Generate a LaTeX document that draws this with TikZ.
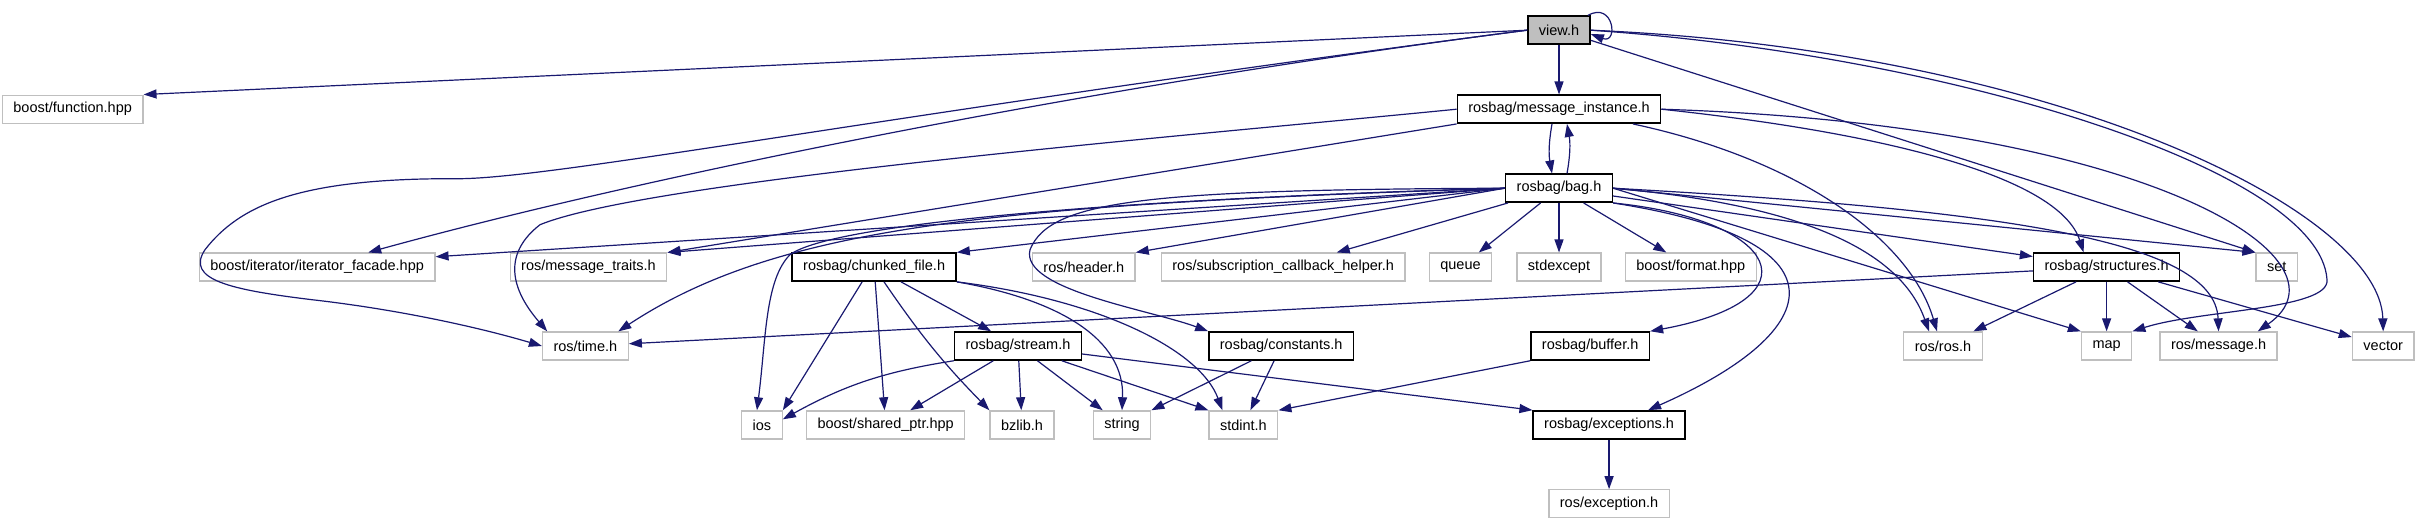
\documentclass[tikz,border=0pt]{standalone}
\usepackage{fontspec}
\setmainfont{Liberation Sans}
\usepackage{tikz}
\usetikzlibrary{arrows.meta, positioning, shapes, calc}
\definecolor{incblue}{HTML}{191970}
\definecolor{extgray}{HTML}{BFBFBF}
\tikzset{
	every node/.style={
		align=center,
		font=\fontsize{14.5pt}{17pt}\selectfont,
	},
}
\tikzstyle{every file} = [rectangle, minimum height=28pt, inner xsep=11pt, inner ysep=0pt, line width=1.3pt, fill=white]
\tikzstyle{doc file} = [every file, draw=black, line width=1.5pt]
\tikzstyle{ext file} = [every file, draw=extgray]
\tikzstyle{main file} = [every file, draw=black, line width=1.5pt, fill=extgray]
\tikzstyle{include} = [draw=incblue, line width=1.2pt, -{Triangle[length=13pt,width=9pt]}]

\begin{document}
\begin{tikzpicture}[x=1pt, y=-1pt, node distance=49.5pt]
    \path [fill=white] (0,0) rectangle (2416,504);

    \node (view) [main file] at (1559,20.5) {view.h};
    \node (msginst) [doc file, below=of view] {rosbag/message\_instance.h};
    \node (func) [ext file, left=1313pt of msginst] {boost/function.hpp};
    \node (bag) [doc file, below=of msginst] {rosbag/bag.h};

    % files included by bag.h
    \node (stdexc) [ext file, below=of bag] {stdexcept};
    \node (queue) [ext file, left=24pt of stdexc] {queue};
    \node (subcb) [ext file, left=23pt of queue] {ros/subscription\_callback\_helper.h};
    \node (header) [ext file, left=25pt of subcb] {ros/header.h};
    \node (chunked) [doc file, left=75pt of header] {rosbag/chunked\_file.h};
    \node (msgtraits) [ext file, left=124pt of chunked] {ros/message\_traits.h};
    \node (iterfac) [ext file, left=74pt of msgtraits] {boost/iterator/iterator\_facade.hpp};
    \node (format) [ext file, right=23pt of stdexc] {boost/format.hpp};
    \node (structs) [doc file, right=276pt of format] {rosbag/structures.h};
    \node (set) [ext file, right=75pt of structs] {set};

    \node (map) [ext file, below=of structs] {map};
    \node (rmsg) [ext file, right=27pt of map] {ros/message.h};
    \node (vector) [ext file, right=74pt of rmsg] {vector};
    \node (rosh) [ext file, left=98pt of map] {ros/ros.h};
    \node (buffer) [doc file, left=253pt of rosh] {rosbag/buffer.h};
    \node (consts) [doc file, left=176pt of buffer] {rosbag/constants.h};
    \node (stream) [doc file, left=126pt of consts] {rosbag/stream.h};
    \node (rtime) [ext file, left=325pt of stream] {ros/time.h};

    \node (bzlib) [ext file, below=of stream, xshift=4pt] {bzlib.h};
    \node (sharedptr) [ext file, left=24pt of bzlib] {boost/shared\_ptr.hpp};
    \node (ios) [ext file, left=23pt of sharedptr] {ios};
    \node (string) [ext file, right=38pt of bzlib] {string};
    \node (stdint) [ext file, right=57pt of string] {stdint.h};
    \node (excs) [doc file, right=254pt of stdint] {rosbag/exceptions.h};
    \node (rexc) [ext file, below=of excs] {ros/exception.h};

    % view.h
    \draw [include] (view.west) -- (func.north east);
    \draw [include] (view) -- (msginst);
    \draw [include] ([xshift=-3pt]view.north east) to [out=30, in=-20, looseness=4] ([yshift=-4pt]view.east);
    \draw [include] (view.west) .. controls (900,102) and (560,168) .. (460,169)
        .. controls (300,168) and (240,195) .. (205,240)
        .. controls (185,270) and (230,280) .. (312,290)
        .. controls (400,300) and (480,318) .. (rtime.west);
    \draw [include] (view.west) .. controls (1100,75) and (650,165) .. (iterfac.16);
    \draw [include] (view) -- (set.north west);
    \draw [include] (view.east) .. controls (1950,45) and (2320,160) .. (2327,270)
        .. controls (2330,300) and (2200,300) .. (map.north east);
    \draw [include] (view.east) .. controls (2050,40) and (2380,200) .. (vector.north);

    % rosbag/message_instance.h
    \draw [include] ([xshift=-7pt]msginst.south) to [bend right=10] ([xshift=-7pt]bag.north);
    \draw [include] ([xshift=8pt]bag.north) to [bend right=10] ([xshift=8pt]msginst.south);
    \draw [include] (msginst.south west) -- (msgtraits.north east);
    \draw [include] (msginst.west) .. controls (1200,125) and (650,170) .. (540,215)
        .. controls (495,250) and (520,290) .. (rtime.159);
    \draw [include] (msginst.east) .. controls (1900,125) and (2060,170) .. ([xshift=-23pt]structs.north);
    \draw [include] ([xshift=74pt]msginst.south) .. controls (1800,150) and (1910,230) .. ([xshift=-6pt]rosh.north);
    \draw [include] (msginst.east) .. controls (2150,115) and (2360,250) .. ([xshift=-20pt]rmsg.north east);

    % rosbag/bag.h
    \draw [include] (bag.west) -- (iterfac.5);
    \draw [include] (bag.west) -- (msgtraits.north east);
    \draw [include] (bag.west) .. controls (1000,195) and (780,215) .. (rtime.24);
    \draw [include] (bag.west) .. controls (1100,190) and (830,215) .. (790,245)
        .. controls (765,270) and (766,330) .. ([xshift=-5pt]ios.north);
    \draw [include] (bag.west) -- (chunked.north east);
    \draw [include] (bag.west) -- (header.north east);
    \draw [include] (bag) -- ([xshift=-69pt]subcb.north east);
    \draw [include] (bag) -- (queue);
    \draw [include] (bag) -- (stdexc);
    \draw [include] (bag) -- (format);
    \draw [include] (bag) -- (structs);
    \draw [include] (bag.east) -- (set.north west);
    \draw [include] (bag.east) .. controls (2000,200) and (2215,230) .. (rmsg.north);
    \draw [include] (bag.east) .. controls (1800,195) and (1900,240) .. ([xshift=-14pt]rosh.north);
    \draw [include] (bag.east) -- (map.north west);
    \draw [include] (bag.south east) .. controls (1780,210) and (1820,290) .. (buffer.north east);
    \draw [include] (bag.south east) .. controls (1850,230) and (1830,320) .. ([xshift=39pt]excs.north);
    \draw [include] (bag.west) .. controls (1150,180) and (1050,190) .. (1030,240)
        .. controls (1020,280) and (1150,300) .. (consts.north west);

    % rosbag/chunked_file.h
    \draw [include] ([xshift=-12pt]chunked.south) -- (ios.north east);
    \draw [include] (chunked) -- (sharedptr);
    \draw [include] (chunked) to [bend right=5] (bzlib.north west);
    \draw [include] (chunked) -- (stream);
    \draw [include] (chunked.south east) .. controls (1060,290) and (1125,330) .. (string.north);
    \draw [include] (chunked.south east) .. controls (1100,290) and (1200,340) .. ([xshift=-21pt]stdint.north);

    % rosbag/stream.h
    \draw [include] (stream.south west) to [bend right=10] (ios.15);
    \draw [include] (stream) -- (sharedptr);
    \draw [include] (stream) -- (bzlib);
    \draw [include] (stream) -- (string);
    \draw [include] (stream) -- (stdint.north west);
    \draw [include] (stream) -- (excs.north west);

    \draw [include] (consts) -- (string.north east);
    \draw [include] (consts) -- (stdint);
    \draw [include] (buffer.south west) -- (stdint.north east);
    \draw [include] (excs) -- (rexc);

    % rosbag/structures.h
    \draw [include] (structs) -- (rtime);
    \draw [include] (structs) -- (rosh);
    \draw [include] (structs) -- (map);
    \draw [include] (structs) -- (rmsg);
    \draw [include] (structs) -- (vector);
\end{tikzpicture}
\end{document}
